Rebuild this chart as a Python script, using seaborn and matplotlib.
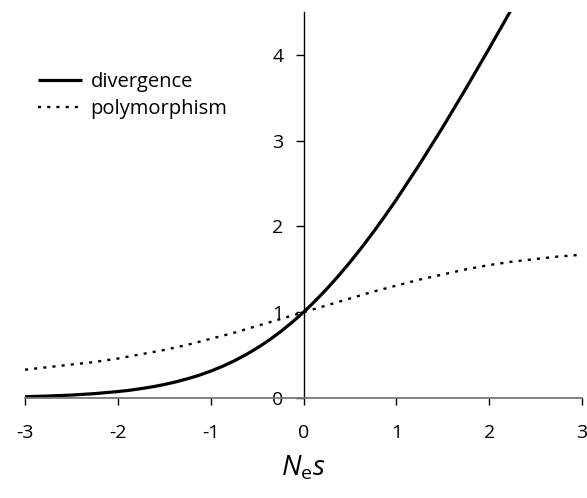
import numpy as np
import pandas as pd
import matplotlib
matplotlib.use("Agg")
import matplotlib.pyplot as plt
import seaborn as sns

# Data
nes_div = [-3.0, -2.75, -2.5, -2.25, -2.0, -1.875, -1.75, -1.625, -1.5, -1.375, -1.25, -1.125,
           -1.0, -0.875, -0.75, -0.625, -0.5, -0.375, -0.25, -0.125, 0.0, 0.125, 0.25, 0.375,
           0.5, 0.625, 0.75, 0.875, 1.0, 1.25, 1.5, 1.75, 2.0, 2.25]
divergence = [0.015, 0.023, 0.034, 0.051, 0.075, 0.090, 0.109, 0.131, 0.157, 0.188, 0.224, 0.265,
              0.313, 0.368, 0.431, 0.502, 0.582, 0.671, 0.771, 0.880, 1.0, 1.130, 1.271, 1.422,
              1.582, 1.752, 1.931, 2.118, 2.313, 2.724, 3.157, 3.609, 4.075, 4.55]
nes_poly = [-3.0, -2.75, -2.5, -2.25, -2.0, -1.75, -1.5, -1.25, -1.0, -0.75, -0.5, -0.25,
            0.0, 0.25, 0.5, 0.75, 1.0, 1.25, 1.5, 1.75, 2.0, 2.25, 2.5, 2.75, 3.0]
polymorphism = [0.33, 0.36, 0.39, 0.42, 0.46, 0.51, 0.56, 0.62, 0.69, 0.76, 0.84, 0.92,
                1.0, 1.08, 1.16, 1.24, 1.31, 1.38, 1.44, 1.50, 1.55, 1.59, 1.62, 1.65, 1.67]
x_ticks = [-3, -2, -1, 0, 1, 2, 3]
y_ticks = [0, 1, 2, 3, 4]
series_names = ["divergence", "polymorphism"]

df_div = pd.DataFrame({"Nes": nes_div, "value": divergence})
df_poly = pd.DataFrame({"Nes": nes_poly, "value": polymorphism})

sns.set_theme(style="white")
FONT = "Open Sans"
plt.rcParams["font.family"] = [FONT, "DejaVu Sans"]
plt.rcParams["mathtext.fontset"] = "custom"
plt.rcParams["mathtext.it"] = f"{FONT}:italic"
plt.rcParams["mathtext.rm"] = FONT
plt.rcParams["text.color"] = "black"
plt.rcParams["xtick.color"] = "black"
plt.rcParams["ytick.color"] = "black"
plt.rcParams["axes.labelcolor"] = "black"

fig = plt.figure(figsize=(5.87, 4.98), dpi=100)
ax = fig.add_axes([25 / 587, 100 / 498, (582 - 25) / 587, (398 - 12) / 498])

sns.lineplot(data=df_div, x="Nes", y="value", ax=ax, color="black", lw=2.3,
             label=series_names[0], solid_capstyle="butt", solid_joinstyle="round")
sns.lineplot(data=df_poly, x="Nes", y="value", ax=ax, color="black", lw=1.7,
             linestyle=(0, (1.3, 2.6)), label=series_names[1])

ax.set_xlim(-3, 3)
ax.set_ylim(0, 4.5)
ax.set_xticks(x_ticks)
ax.set_xticklabels([str(v) for v in x_ticks])
ax.set_yticks(y_ticks)
ax.set_yticklabels([str(v) for v in y_ticks])

for s in ["top", "right"]:
    ax.spines[s].set_visible(False)
ax.spines["left"].set_position(("data", 0))
ax.spines["left"].set_color("black")
ax.spines["left"].set_linewidth(1.0)
ax.spines["bottom"].set_color("#777777")
ax.spines["bottom"].set_linewidth(1.3)

ax.tick_params(axis="x", direction="out", length=5, width=1, color="black",
               pad=14, labelsize=14, bottom=True)
ax.tick_params(axis="y", direction="out", length=5.5, width=1, color="black",
               pad=9, labelsize=14, left=True)

ax.set_xlabel(r"$N_{\mathrm{e}}s$", fontsize=20, labelpad=8)
ax.set_ylabel("")

leg = ax.legend(loc="upper left", bbox_to_anchor=(30 / 587, 1 - 64 / 498),
                bbox_transform=fig.transFigure, frameon=False, fontsize=14.5,
                handlelength=2.2, handletextpad=0.4, labelspacing=0.35, borderaxespad=0)

fig.savefig("out.png", dpi=100)
